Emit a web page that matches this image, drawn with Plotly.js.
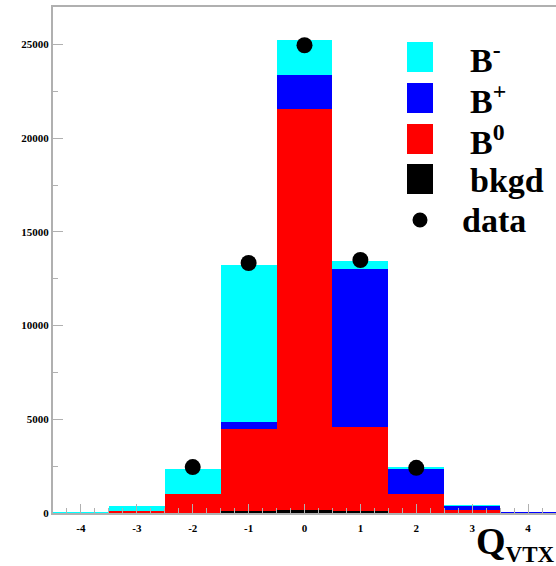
<!DOCTYPE html>
<html>
<head>
<meta charset="utf-8">
<script src="https://cdn.plot.ly/plotly-3.0.1.min.js"></script>
<style>html,body{margin:0;padding:0;background:#fff;}#chart{width:556px;height:566px;}</style>
</head>
<body>
<div id="chart"></div>
<script>
// Q_VTX bins
var qvtx = [-4, -3, -2, -1, 0, 1, 2, 3, 4];
// stacked components (bottom to top): bkgd, B0, B+, B-
var bkgd   = [0, 5, 20, 100, 150, 100, 20, 5, 0];
var bZero  = [15, 115, 990, 4390, 21410, 4500, 990, 135, 15];
var bPlus  = [0, 10, 30, 380, 1810, 8420, 1335, 260, 30];
var bMinus = [60, 260, 1320, 8370, 1860, 430, 85, 30, 0];
// data points
var dataX = [-2, -1, 0, 1, 2];
var dataY = [2450, 13340, 24960, 13500, 2410];
var yTicks = [0, 5000, 10000, 15000, 20000, 25000];
var yTickText = ['0', '5000', '10000', '15000', '20000', '25000'];
var xTicks = [-4, -3, -2, -1, 0, 1, 2, 3, 4];
var xTickText = ['-4', '-3', '-2', '-1', '0', '1', '2', '3', '4'];

var serif = "Liberation Serif, Times New Roman, serif";
function bar(name, y, color) {
  return {type: 'bar', name: name, x: qvtx, y: y, width: 1,
          marker: {color: color, line: {width: 0}}, hoverinfo: 'skip'};
}
var traces = [
  bar('bkgd', bkgd, '#000000'),
  bar('B0', bZero, '#ff0000'),
  bar('B+', bPlus, '#0000ff'),
  bar('B-', bMinus, '#00ffff'),
  {type: 'scatter', mode: 'markers', name: 'data', x: dataX, y: dataY,
   marker: {color: '#000', size: 16}}
];

// custom legend
var legItems = [
  {label: 'B<sup>-</sup>', color: '#00ffff', y: 57},
  {label: 'B<sup>+</sup>', color: '#0000ff', y: 98},
  {label: 'B<sup>0</sup>', color: '#ff0000', y: 139},
  {label: 'bkgd', color: '#000000', y: 179}
];
var H = 566, T = 7, B = 53, L = 53;
var ph = H - T - B;
function py(pix) { return (H - B - pix) / ph; }
var shapes = [], annotations = [];
legItems.forEach(function (it) {
  shapes.push({type: 'rect', xref: 'paper', yref: 'paper',
    x0: (407 - L) / 503, x1: (433 - L) / 503, y0: py(it.y + 15), y1: py(it.y - 15),
    fillcolor: it.color, line: {width: 0}});
  annotations.push({xref: 'paper', yref: 'paper', x: (468 - L) / 503, y: py(it.y + 1),
    xanchor: 'left', yanchor: 'middle', showarrow: false, text: it.label,
    font: {family: serif, size: 34, color: '#000', weight: 'bold'}});
});
shapes.push({type: 'circle', xref: 'paper', yref: 'paper',
  x0: (412.5 - L) / 503, x1: (427.5 - L) / 503, y0: py(227.5), y1: py(212.5),
  fillcolor: '#000', line: {width: 0}});
annotations.push({xref: 'paper', yref: 'paper', x: (460 - L) / 503, y: py(220),
  xanchor: 'left', yanchor: 'middle', showarrow: false, text: 'data',
  font: {family: serif, size: 34, color: '#000', weight: 'bold'}});
annotations.push({xref: 'paper', yref: 'paper', x: (474 - L) / 503, y: py(543),
  xanchor: 'left', yanchor: 'middle', showarrow: false,
  text: 'Q<sub><span style="font-size:23px">VTX</span></sub>',
  font: {family: serif, size: 38, color: '#000', weight: 'bold'}});

var layout = {
  width: 556, height: 566,
  margin: {l: L, r: 0, t: T, b: B},
  paper_bgcolor: '#fff', plot_bgcolor: '#fff',
  barmode: 'stack', bargap: 0, showlegend: false,
  xaxis: {range: [-4.5, 4.5], tickvals: xTicks, ticktext: xTickText, ticks: 'inside', ticklen: 9,
    tickcolor: '#b0b0b0', tickwidth: 1, showgrid: false, zeroline: false,
    showline: true, linecolor: '#b0b0b0', linewidth: 2, mirror: true,
    ticklabelstandoff: 4,
    minor: {dtick: 0.25, tick0: 0, ticks: 'inside', ticklen: 5, tickcolor: '#b0b0b0'},
    tickfont: {family: serif, size: 11, color: '#000', weight: 'bold'}},
  yaxis: {range: [0, 27000], tickvals: yTicks, ticktext: yTickText, ticks: 'inside', ticklen: 10,
    tickcolor: '#b0b0b0', tickwidth: 1, showgrid: false, zeroline: false,
    showline: true, linecolor: '#b0b0b0', linewidth: 2, mirror: false,
    ticklabelstandoff: 0,
    minor: {dtick: 2500, tick0: 2500, ticks: 'inside', ticklen: 5, tickcolor: '#b0b0b0'},
    tickfont: {family: serif, size: 11, color: '#000', weight: 'bold'}},
  shapes: shapes, annotations: annotations
};
Plotly.newPlot('chart', traces, layout, {displayModeBar: false, staticPlot: true});
</script>
</body>
</html>
